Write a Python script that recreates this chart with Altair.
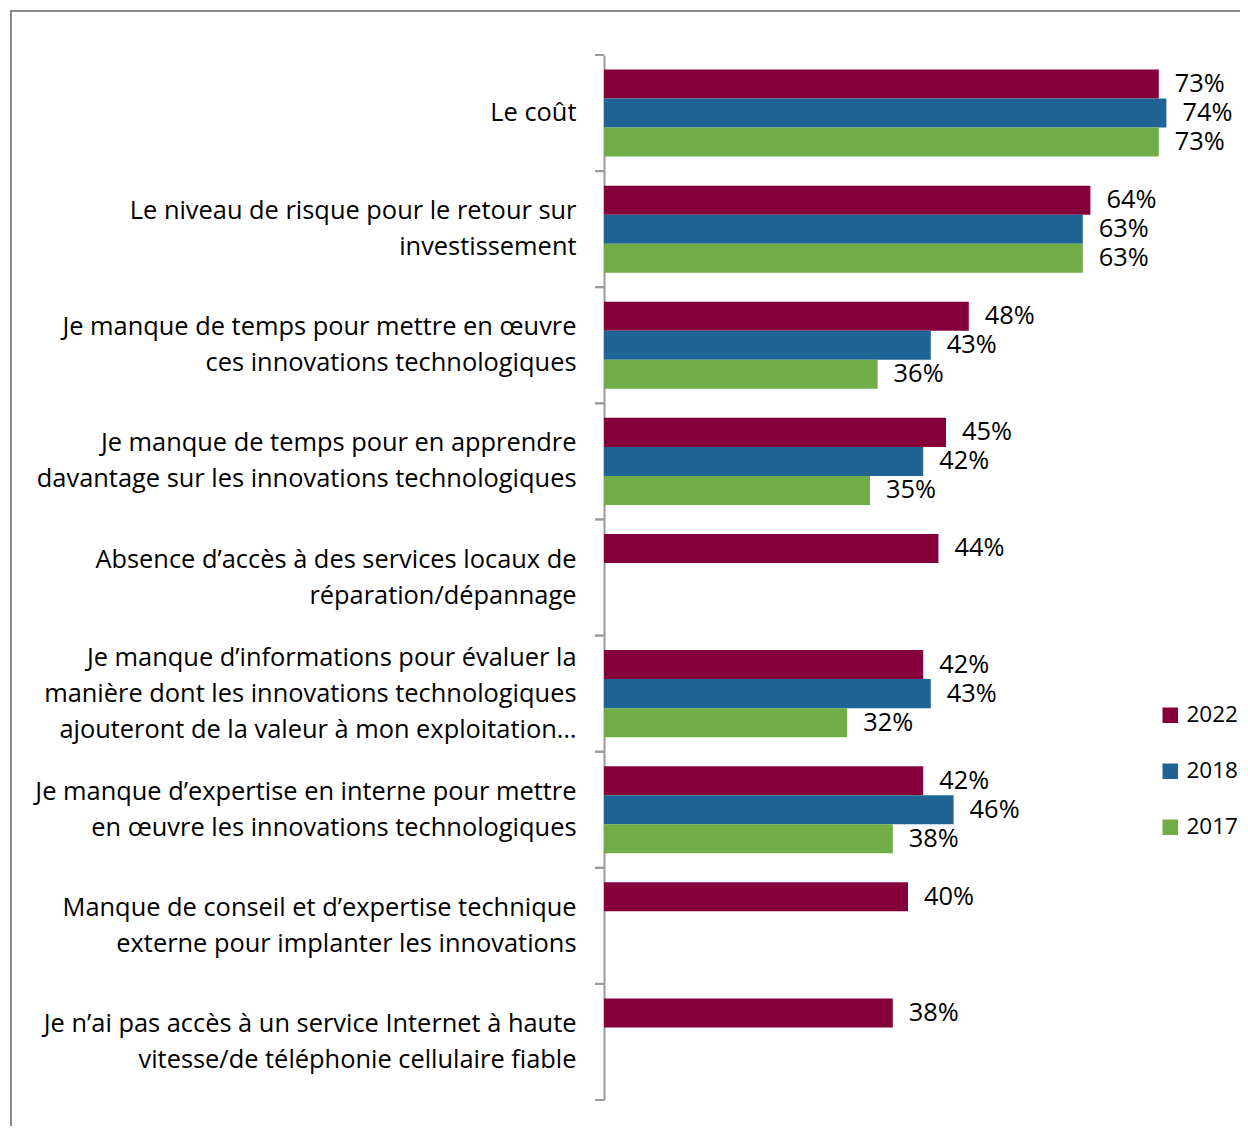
import altair as alt
import pandas as pd

categories = [
    "Le coût",
    "Le niveau de risque pour le retour sur|investissement",
    "Je manque de temps pour mettre en œuvre|ces innovations technologiques",
    "Je manque de temps pour en apprendre|davantage sur les innovations technologiques",
    "Absence d’accès à des services locaux de|réparation/dépannage",
    "Je manque d’informations pour évaluer la|manière dont les innovations technologiques|ajouteront de la valeur à mon exploitation…",
    "Je manque d’expertise en interne pour mettre|en œuvre les innovations technologiques",
    "Manque de conseil et d’expertise technique|externe pour implanter les innovations",
    "Je n’ai pas accès à un service Internet à haute|vitesse/de téléphonie cellulaire fiable",
]
years = ["2022", "2018", "2017"]
v2022 = [73, 64, 48, 45, 44, 42, 42, 40, 38]
v2018 = [74, 63, 43, 42, None, 43, 46, None, None]
v2017 = [73, 63, 36, 35, None, 32, 38, None, None]
colors = ["#85003A", "#1F6494", "#70AD47"]

rows = []
for i, c in enumerate(categories):
    for yr, vals in zip(years, [v2022, v2018, v2017]):
        if vals[i] is not None:
            rows.append({"cat": c, "year": yr, "value": vals[i], "label": f"{vals[i]}%"})
df = pd.DataFrame(rows)
cats_df = pd.DataFrame({"cat": categories})
frame_df = pd.DataFrame({"k": [0]})

FONT = "Open Sans"
FS = 25.4
LH = 36
W, H = 608, 1045

ysc = alt.Scale(domain=categories, paddingInner=0, paddingOuter=0)
yoff = alt.Scale(domain=years, paddingInner=0, paddingOuter=0.5)
xsc = alt.Scale(domain=[0, 80])

label_offset = {
    "condition": [
        {"test": "length(split(datum.label, '|')) == 3", "value": -LH},
        {"test": "length(split(datum.label, '|')) == 2", "value": -LH / 2},
    ],
    "value": 0,
}

y_axis = alt.Axis(
    title=None, ticks=False, domain=True, domainColor="#9A9A9A", domainWidth=2,
    labelExpr="split(datum.label, '|')", labelFontSize=FS, labelFont=FONT,
    labelColor="#000000", labelPadding=28, labelLimit=0, labelLineHeight=LH,
    labelAlign="right", labelBaseline="middle", labelOffset=label_offset,
)

bars = alt.Chart(df).mark_bar().encode(
    y=alt.Y("cat:N", scale=ysc, sort=categories, axis=y_axis),
    yOffset=alt.YOffset("year:N", scale=yoff, sort=years),
    x=alt.X("value:Q", scale=xsc, axis=None),
    color=alt.Color(
        "year:N",
        scale=alt.Scale(domain=years, range=colors),
        legend=alt.Legend(
            title=None, orient="none", legendX=555, legendY=649, padding=0,
            symbolType="square", symbolSize=240, symbolStrokeWidth=0,
            labelFontSize=22.5, labelFont=FONT, labelColor="#000000",
            rowPadding=33, labelOffset=5,
        ),
    ),
)

texts = alt.Chart(df).mark_text(
    align="left", baseline="middle", dx=16, fontSize=FS, font=FONT, color="#000000"
).encode(
    y=alt.Y("cat:N", scale=ysc, sort=categories, axis=y_axis),
    yOffset=alt.YOffset("year:N", scale=yoff, sort=years),
    x=alt.X("value:Q", scale=xsc, axis=None),
    text="label:N",
)

ticks_start = alt.Chart(cats_df).mark_rule(color="#9A9A9A", strokeWidth=2).encode(
    y=alt.Y("cat:N", scale=ysc, sort=categories, axis=y_axis, bandPosition=0),
    x=alt.value(-9),
    x2=alt.value(0),
)
ticks_end = alt.Chart(cats_df).mark_rule(color="#9A9A9A", strokeWidth=2).encode(
    y=alt.Y("cat:N", scale=ysc, sort=categories, axis=y_axis, bandPosition=1),
    x=alt.value(-9),
    x2=alt.value(0),
)

frame = alt.Chart(frame_df).mark_rect(
    fillOpacity=0, stroke="#8C8C8C", strokeWidth=2
).encode(
    x=alt.value(-593), x2=alt.value(W + 200),
    y=alt.value(-44), y2=alt.value(H + 300),
)

chart = alt.layer(frame, bars, texts, ticks_start, ticks_end).properties(
    width=W, height=H,
    background="#FFFFFF",
    autosize=alt.AutoSizeParams(type="none"),
    padding={"left": 596, "top": 47, "right": 28, "bottom": 26},
).configure_view(stroke=None)

chart.save("out.html", embed_options={"renderer": "svg", "actions": False})
